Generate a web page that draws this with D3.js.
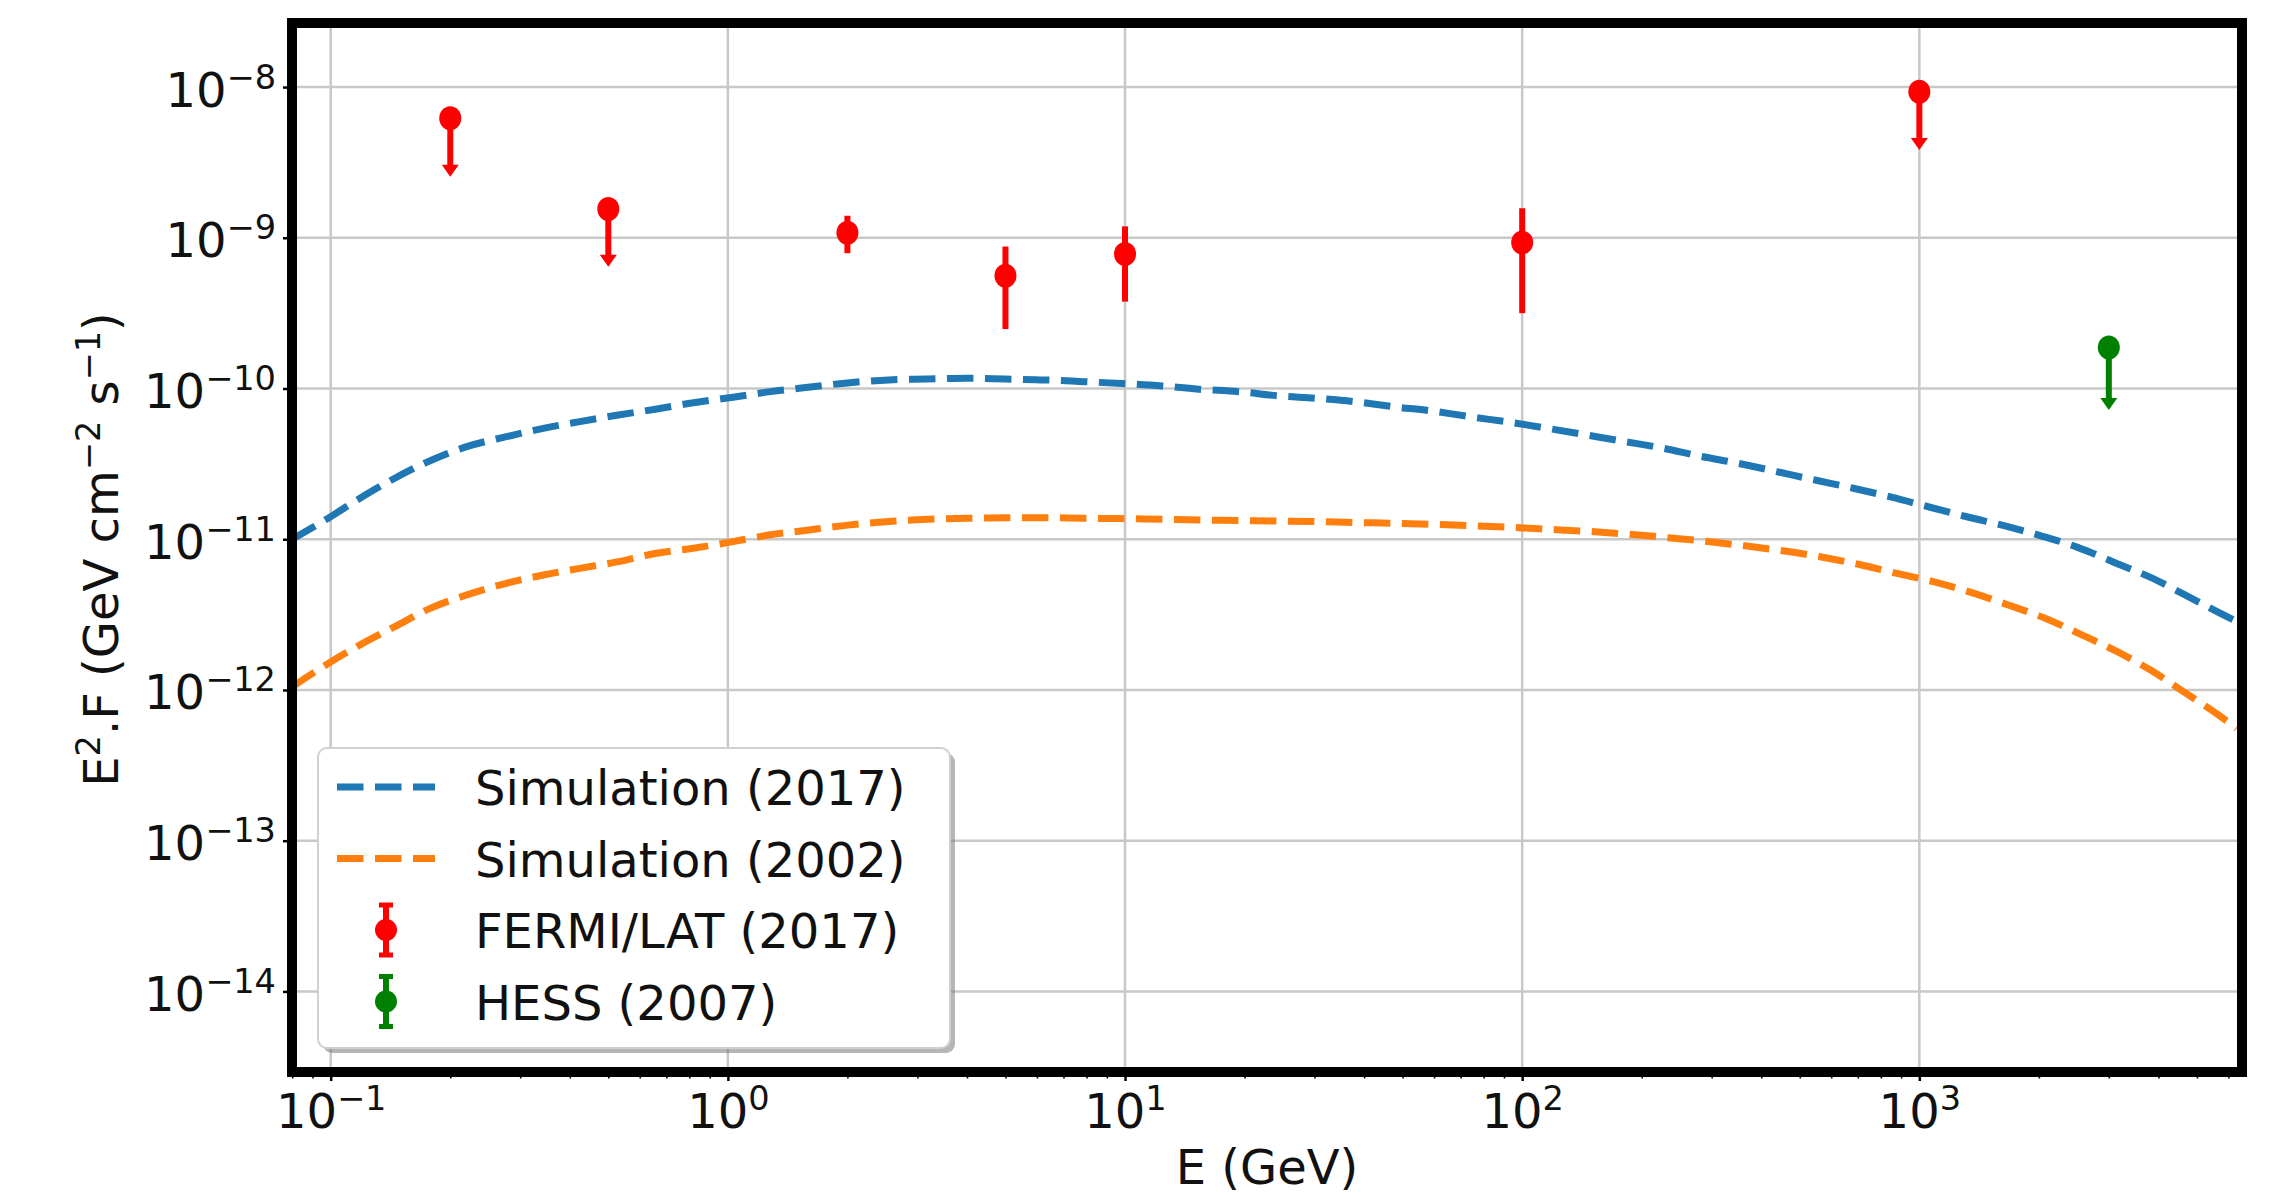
<!DOCTYPE html>
<html><head><meta charset="utf-8">
<script src="https://cdn.jsdelivr.net/npm/d3@7"></script>
<style>body{margin:0;background:#fff}svg{display:block}</style>
</head><body>
<svg id="chart" width="2275" height="1195"></svg>
<script>
// ---------- data ----------
const sim2017E = [0.08,0.0986,0.1185,0.145,0.178,0.22,0.277,0.343,0.424,0.53,0.662,0.819,1.03,1.28,1.55,2.03,2.54,3.17,3.99,4.99,6.29,7.85,9.8,12.4,15.4,19.3,24.1,30.4,37.9,47.4,59.2,73.9,93.1,116,145,182,227,280,350,437,546,682,851,1064,1316,1644,2033,2513,3111,3811,4667,5715,6300];
const sim2017F = [1.0e-11,1.38e-11,1.87e-11,2.54e-11,3.32e-11,4.11e-11,4.79e-11,5.44e-11,6.03e-11,6.67e-11,7.31e-11,8.05e-11,8.75e-11,9.53e-11,1.01e-10,1.093e-10,1.14e-10,1.155e-10,1.17e-10,1.155e-10,1.14e-10,1.11e-10,1.08e-10,1.04e-10,9.88e-11,9.53e-11,8.96e-11,8.6e-11,8.17e-11,7.57e-11,7.09e-11,6.5e-11,5.97e-11,5.44e-11,4.92e-11,4.44e-11,4.01e-11,3.56e-11,3.19e-11,2.81e-11,2.47e-11,2.18e-11,1.9e-11,1.63e-11,1.41e-11,1.225e-11,1.05e-11,8.8e-12,6.98e-12,5.6e-12,4.27e-12,3.23e-12,2.84e-12];
const sim2002E = [0.08,0.0986,0.1185,0.145,0.178,0.22,0.277,0.343,0.424,0.53,0.662,0.819,1.03,1.28,1.55,2.03,2.54,3.17,3.99,4.99,6.29,7.85,9.8,12.4,15.4,19.3,24.1,30.4,37.9,47.4,59.2,73.9,93.1,116,145,182,227,280,350,437,562,702,877,1084,1355,1675,2073,2566,3141,3811,4624,5662,6300];
const sim2002F = [1.05e-12,1.5e-12,1.99e-12,2.63e-12,3.48e-12,4.27e-12,5.1e-12,5.79e-12,6.41e-12,7.1e-12,8.07e-12,8.71e-12,9.64e-12,1.07e-11,1.14e-11,1.245e-11,1.31e-11,1.356e-11,1.377e-11,1.39e-11,1.39e-11,1.377e-11,1.37e-11,1.356e-11,1.343e-11,1.33e-11,1.32e-11,1.31e-11,1.29e-11,1.277e-11,1.257e-11,1.23e-11,1.2e-11,1.164e-11,1.129e-11,1.084e-11,1.03e-11,9.78e-12,9.16e-12,8.49e-12,7.66e-12,6.82e-12,5.94e-12,5.23e-12,4.42e-12,3.66e-12,2.99e-12,2.32e-12,1.8e-12,1.36e-12,9.75e-13,6.83e-13,5.57e-13];

const fermiE    = [0.2, 0.5, 2, 5, 10, 100, 1000];
const fermiF    = [6.2e-9, 1.55e-9, 1.08e-9, 5.6e-10, 7.8e-10, 9.3e-10, 9.3e-9];
const fermiLow  = [2.54e-9, 6.43e-10, 7.9e-10, 2.48e-10, 3.77e-10, 3.16e-10, 3.82e-9];
const fermiHigh = [null, null, 1.4e-9, 8.75e-10, 1.19e-9, 1.57e-9, null];
const fermiUL   = [true, true, false, false, false, false, true];

const hessE    = [3000];
const hessF    = [1.87e-10];
const hessLow  = [7.2e-11];
const hessHigh = [null];
const hessUL   = [true];

const xTickVals = [0.1, 1, 10, 100, 1000];
const xTickExp  = ["−1", "0", "1", "2", "3"];
const yTickVals = [1e-8, 1e-9, 1e-10, 1e-11, 1e-12, 1e-13, 1e-14];
const yTickExp  = ["−8", "−9", "−10", "−11", "−12", "−13", "−14"];
const legendLabels = ["Simulation (2017)", "Simulation (2002)", "FERMI/LAT (2017)", "HESS (2007)"];
const colors = {s2017: "#1f77b4", s2002: "#ff7f0e", fermi: "#ff0000", hess: "#008000"};

// ---------- layout ----------
const svg = d3.select("#chart");
const FONT = "DejaVu Sans";
const FS = 48, SUP = 33.6, SUPUP = 18;
const M = {left: 292, right: 2242, top: 23, bottom: 1072};

const x = d3.scaleLog().domain([0.0799, 6493]).range([M.left, M.right]);
const y = d3.scaleLog().domain([2.92e-15, 2.66e-8]).range([M.bottom, M.top]);

svg.append("rect").attr("width", 2275).attr("height", 1195).attr("fill", "#fff");

// grid
const grid = svg.append("g").attr("stroke", "#c8c8c8").attr("stroke-width", 2.5);
grid.selectAll("line.gx").data(xTickVals).join("line").attr("class", "gx")
  .attr("x1", d => x(d)).attr("x2", d => x(d)).attr("y1", M.top).attr("y2", M.bottom);
grid.selectAll("line.gy").data(yTickVals).join("line").attr("class", "gy")
  .attr("y1", d => y(d)).attr("y2", d => y(d)).attr("x1", M.left).attr("x2", M.right);

// clip
svg.append("clipPath").attr("id", "clip").append("rect")
  .attr("x", M.left).attr("y", M.top).attr("width", M.right - M.left).attr("height", M.bottom - M.top);

const plot = svg.append("g").attr("clip-path", "url(#clip)");
const line = d3.line().x(d => x(d[0])).y(d => y(d[1])).curve(d3.curveMonotoneX);
const DASH = "26.5,11.5", LW = 7;

plot.append("path").datum(d3.zip(sim2017E, sim2017F)).attr("d", line)
  .attr("fill", "none").attr("stroke", colors.s2017).attr("stroke-width", LW).attr("stroke-dasharray", DASH);
plot.append("path").datum(d3.zip(sim2002E, sim2002F)).attr("d", line)
  .attr("fill", "none").attr("stroke", colors.s2002).attr("stroke-width", LW).attr("stroke-dasharray", DASH);

// error bars
const EW = 6, R = 11, AH = 12, AW = 8.5;
function drawErr(E, F, lo, hi, ul, color) {
  const g = plot.append("g");
  const pts = E.map((e, i) => ({e, f: F[i], lo: lo[i], hi: hi[i], ul: ul[i]}));
  pts.forEach(p => {
    const cx = x(p.e), cy = y(p.f);
    if (p.ul) {
      const ty = y(p.lo);
      g.append("line").attr("x1", cx).attr("x2", cx).attr("y1", cy).attr("y2", ty - AH + 1)
        .attr("stroke", color).attr("stroke-width", EW);
      g.append("path").attr("d", `M${cx - AW},${ty - AH}L${cx + AW},${ty - AH}L${cx},${ty}Z`).attr("fill", color);
    } else {
      g.append("line").attr("x1", cx).attr("x2", cx).attr("y1", y(p.hi)).attr("y2", y(p.lo))
        .attr("stroke", color).attr("stroke-width", EW);
    }
    g.append("ellipse").attr("cx", cx).attr("cy", cy).attr("rx", R).attr("ry", R + 1).attr("fill", color);
  });
}
drawErr(fermiE, fermiF, fermiLow, fermiHigh, fermiUL, colors.fermi);
drawErr(hessE, hessF, hessLow, hessHigh, hessUL, colors.hess);

// axes
function supLabel(sel, exps) {
  sel.each(function(d, i) {
    const t = d3.select(this);
    t.text(null);
    t.append("tspan").text("10");
    t.append("tspan").attr("dy", -SUPUP).attr("font-size", SUP).text(exps[i]);
  });
}

const xAxis = svg.append("g").attr("transform", `translate(0,${M.bottom})`)
  .call(d3.axisBottom(x).tickValues(xTickVals).tickSizeInner(9).tickSizeOuter(0).tickFormat(() => ""));
xAxis.select(".domain").remove();
xAxis.selectAll(".tick line").attr("stroke", "#000").attr("stroke-width", 2.5);
xAxis.attr("font-family", FONT).attr("font-size", FS);
xAxis.selectAll(".tick text").attr("y", 56).attr("dy", 0).attr("fill", "#111")
  .attr("text-anchor", "middle").call(supLabel, xTickExp);

// minor x ticks
const minorVals = [];
[0.01, 0.1, 1, 10, 100, 1000].forEach(b => { for (let k = 2; k <= 9; k++) { const v = b * k; if (v >= 0.0799 && v <= 6493) minorVals.push(v); } });
const xMinor = svg.append("g").attr("transform", `translate(0,${M.bottom})`)
  .call(d3.axisBottom(x).tickValues(minorVals).tickSizeInner(6.5).tickSizeOuter(0).tickFormat(() => ""));
xMinor.select(".domain").remove();
xMinor.selectAll(".tick line").attr("stroke", "#000").attr("stroke-width", 1.6);

const yAxis = svg.append("g").attr("transform", `translate(${M.left},0)`)
  .call(d3.axisLeft(y).tickValues(yTickVals).tickSizeInner(9).tickSizeOuter(0).tickFormat(() => ""));
yAxis.select(".domain").remove();
yAxis.selectAll(".tick line").attr("stroke", "#000").attr("stroke-width", 2.5);
yAxis.attr("font-family", FONT).attr("font-size", FS);
yAxis.selectAll(".tick text").attr("x", -16).attr("y", 19).attr("dy", 0).attr("fill", "#111")
  .attr("text-anchor", "end").call(supLabel, yTickExp);

// frame
svg.append("rect").attr("x", M.left).attr("y", M.top).attr("width", M.right - M.left).attr("height", M.bottom - M.top)
  .attr("fill", "none").attr("stroke", "#000").attr("stroke-width", 10);

// axis labels
svg.append("text").attr("x", (M.left + M.right) / 2).attr("y", 1184).attr("text-anchor", "middle")
  .attr("font-family", FONT).attr("font-size", FS).attr("fill", "#111").text("E (GeV)");

const yl = svg.append("text").attr("transform", `translate(118,${(M.top + M.bottom) / 2 + 2}) rotate(-90)`)
  .attr("text-anchor", "middle").attr("font-family", FONT).attr("font-size", FS).attr("fill", "#111");
yl.append("tspan").text("E");
yl.append("tspan").attr("dy", -SUPUP).attr("font-size", SUP).text("2");
yl.append("tspan").attr("dy", SUPUP).text(".F (GeV cm");
yl.append("tspan").attr("dy", -SUPUP).attr("font-size", SUP).text("−2");
yl.append("tspan").attr("dy", SUPUP).text(" s");
yl.append("tspan").attr("dy", -SUPUP).attr("font-size", SUP).text("−1");
yl.append("tspan").attr("dy", SUPUP).text(")");

// legend
const LG = {x: 318, y: 748, w: 632, h: 300};
const leg = svg.append("g");
leg.append("rect").attr("x", LG.x + 5).attr("y", LG.y + 5).attr("width", LG.w).attr("height", LG.h).attr("rx", 9)
  .attr("fill", "#7a7a7a").attr("opacity", 0.55);
leg.append("rect").attr("x", LG.x).attr("y", LG.y).attr("width", LG.w).attr("height", LG.h).attr("rx", 9)
  .attr("fill", "#fff").attr("stroke", "#d0d0d0").attr("stroke-width", 2);
const rowY = d3.scaleLinear().domain([0, 3]).range([787, 1001.5]);
const handleX0 = 337, handleX1 = 435, handleC = 386, textX = 475;
const legendKinds = ["line", "line", "err", "err"];
const legendColors = [colors.s2017, colors.s2002, colors.fermi, colors.hess];
legendLabels.forEach((lab, i) => {
  const cy = rowY(i), col = legendColors[i];
  if (legendKinds[i] === "line") {
    leg.append("line").attr("x1", handleX0).attr("x2", handleX1).attr("y1", cy).attr("y2", cy)
      .attr("stroke", col).attr("stroke-width", LW).attr("stroke-dasharray", DASH);
  } else {
    leg.append("line").attr("x1", handleC).attr("x2", handleC).attr("y1", cy - 25).attr("y2", cy + 25)
      .attr("stroke", col).attr("stroke-width", EW);
    [cy - 25, cy + 25].forEach(cyy => leg.append("line").attr("x1", handleC - 7).attr("x2", handleC + 7)
      .attr("y1", cyy).attr("y2", cyy).attr("stroke", col).attr("stroke-width", 5));
    leg.append("circle").attr("cx", handleC).attr("cy", cy).attr("r", R).attr("fill", col);
  }
  leg.append("text").attr("x", textX).attr("y", cy + 18).attr("font-family", FONT).attr("font-size", FS)
    .attr("fill", "#111").text(lab);
});
</script>
</body></html>
